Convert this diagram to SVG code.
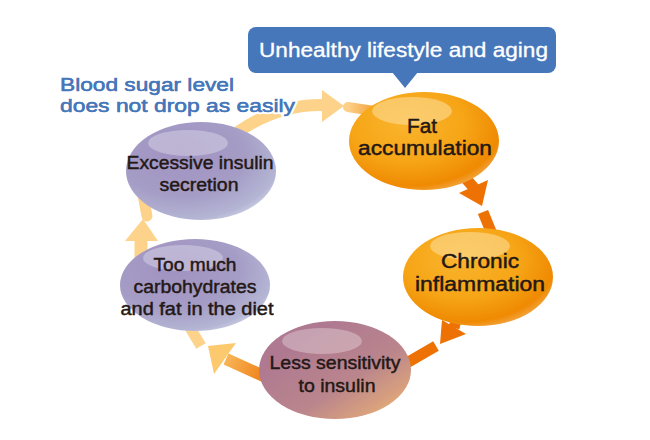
<svg xmlns="http://www.w3.org/2000/svg" width="650" height="440" viewBox="0 0 650 440">
<defs>
<radialGradient id="gOrange" cx="0.4" cy="0.35" r="0.7" fx="0.38" fy="0.3">
<stop offset="0" stop-color="#FAB52E"/>
<stop offset="0.55" stop-color="#F6A516"/>
<stop offset="0.88" stop-color="#EF8A02"/>
<stop offset="1" stop-color="#F3A94A"/>
</radialGradient>
<radialGradient id="gPurple" cx="0.38" cy="0.35" r="0.72" fx="0.35" fy="0.3">
<stop offset="0" stop-color="#A192C1"/>
<stop offset="0.6" stop-color="#A59DC6"/>
<stop offset="0.9" stop-color="#B4B5D4"/>
<stop offset="1" stop-color="#CCD0E4"/>
</radialGradient>
<linearGradient id="gMauve" x1="0.25" y1="0.2" x2="1" y2="0.95">
<stop offset="0" stop-color="#AE7991"/>
<stop offset="0.5" stop-color="#BA858C"/>
<stop offset="0.8" stop-color="#D9A17D"/>
<stop offset="1" stop-color="#F4BE6A"/>
</linearGradient>
<linearGradient id="gArrow4" x1="270" y1="378" x2="210" y2="350" gradientUnits="userSpaceOnUse">
<stop offset="0" stop-color="#EE7A10"/>
<stop offset="1" stop-color="#FCCB72"/>
</linearGradient>
<linearGradient id="gStub1" x1="348" y1="107" x2="372" y2="110" gradientUnits="userSpaceOnUse">
<stop offset="0" stop-color="#FDD08A"/>
<stop offset="1" stop-color="#F4A540"/>
</linearGradient>
<style>
.hl{fill:#FFFFFF;fill-opacity:0.3}
.hlo{fill:#FDE0A0;fill-opacity:0.55}
.lbl{font-family:"Liberation Sans",Arial,sans-serif;fill:#231815;stroke:#231815;stroke-width:0.45;text-anchor:middle}
.note{font-family:"Liberation Sans",Arial,sans-serif;font-size:18.5px}
.light{fill:#FDD38B}
.dark{fill:#EE7203}
.ls{stroke:#FDD38B;fill:none}
.ds{stroke:#EE7203;fill:none}
</style>
</defs>
<g id="connectors">
<path class="ls" d="M238,132 Q278,104 324,105" stroke-width="12"/>
<polygon class="light" points="322,90 344,106 322,122"/>
<line x1="348" y1="107" x2="374" y2="111" stroke="url(#gStub1)" stroke-width="10" stroke-linecap="round"/>
<line class="ds" x1="460" y1="172" x2="475" y2="189" stroke-width="11"/>
<polygon class="dark" points="459,193 488,180 482,206"/>
<line class="ds" x1="483" y1="212" x2="492" y2="234" stroke-width="11"/>
<line class="ds" x1="458" y1="312" x2="454" y2="328" stroke-width="11"/>
<polygon class="dark" points="442,320 466,334 440,344"/>
<line class="ds" x1="398" y1="368" x2="436" y2="346" stroke-width="11"/>
<path d="M272,380 Q246,368 226,359" stroke="url(#gArrow4)" stroke-width="12" fill="none"/>
<polygon fill="#FCC96F" points="208,346 236,343 214,374"/>
<line class="ls" x1="189" y1="326" x2="201" y2="346" stroke-width="11"/>
<line class="ls" x1="141" y1="238" x2="141" y2="260" stroke-width="13"/>
<polygon class="light" points="143,219 125,241 158,241"/>
<line class="ls" x1="143" y1="195" x2="147" y2="216" stroke-width="11" stroke-linecap="round"/>
</g>
<g id="note">
<text class="note" fill="#4677BA" stroke="#FFFFFF" stroke-width="4.5" paint-order="stroke" stroke-linejoin="round">
<tspan x="60" y="91" textLength="174" lengthAdjust="spacingAndGlyphs">Blood sugar level</tspan>
<tspan x="60" y="112" textLength="235" lengthAdjust="spacingAndGlyphs">does not drop as easily</tspan>
</text>
<text class="note" fill="#4677BA" stroke="#4677BA" stroke-width="0.45">
<tspan x="60" y="91" textLength="174" lengthAdjust="spacingAndGlyphs">Blood sugar level</tspan>
<tspan x="60" y="112" textLength="235" lengthAdjust="spacingAndGlyphs">does not drop as easily</tspan>
</text>
</g>
<g id="callout">
<rect x="248" y="27" width="308" height="46" rx="8" fill="#4677BA"/>
<polygon points="392,72 418,72 405,88" fill="#4677BA"/>
<text x="259" y="57" font-family="Liberation Sans, Arial, sans-serif" font-size="19.5" fill="#FFFFFF" stroke="#FFFFFF" stroke-width="0.3" textLength="289" lengthAdjust="spacingAndGlyphs">Unhealthy lifestyle and aging</text>
</g>
<g id="fat">
<ellipse cx="424" cy="141" rx="75" ry="49" fill="url(#gOrange)"/>
<ellipse class="hlo" cx="412" cy="111" rx="40" ry="14"/>
<text class="lbl" font-size="19.5"><tspan x="422" y="133" textLength="30" lengthAdjust="spacingAndGlyphs">Fat</tspan><tspan x="425" y="155" textLength="134" lengthAdjust="spacingAndGlyphs">accumulation</tspan></text>
</g>
<g id="chronic">
<ellipse cx="478" cy="277" rx="75" ry="49" fill="url(#gOrange)"/>
<ellipse class="hlo" cx="470" cy="246" rx="40" ry="14"/>
<text class="lbl" font-size="19.5"><tspan x="480" y="268" textLength="78" lengthAdjust="spacingAndGlyphs">Chronic</tspan><tspan x="480" y="291" textLength="130" lengthAdjust="spacingAndGlyphs">inflammation</tspan></text>
</g>
<g id="less">
<ellipse cx="335" cy="370" rx="76" ry="49" fill="url(#gMauve)"/>
<ellipse class="hl" cx="322" cy="341" rx="40" ry="13"/>
<text class="lbl" font-size="19"><tspan x="335" y="369" textLength="131" lengthAdjust="spacingAndGlyphs">Less sensitivity</tspan><tspan x="337" y="392" textLength="77" lengthAdjust="spacingAndGlyphs">to insulin</tspan></text>
</g>
<g id="carbs">
<ellipse cx="195" cy="285" rx="75" ry="46" fill="url(#gPurple)"/>
<ellipse class="hl" cx="183" cy="258" rx="40" ry="13"/>
<text class="lbl" font-size="18"><tspan x="195" y="271" textLength="83" lengthAdjust="spacingAndGlyphs">Too much</tspan><tspan x="195" y="293" textLength="123" lengthAdjust="spacingAndGlyphs">carbohydrates</tspan><tspan x="197" y="315" textLength="153" lengthAdjust="spacingAndGlyphs">and fat in the diet</tspan></text>
</g>
<g id="insulin">
<ellipse cx="201" cy="171" rx="75" ry="49" fill="url(#gPurple)"/>
<ellipse class="hl" cx="188" cy="143" rx="40" ry="13"/>
<text class="lbl" font-size="18"><tspan x="200" y="169" textLength="147" lengthAdjust="spacingAndGlyphs">Excessive insulin</tspan><tspan x="199" y="191" textLength="79" lengthAdjust="spacingAndGlyphs">secretion</tspan></text>
</g>
</svg>
